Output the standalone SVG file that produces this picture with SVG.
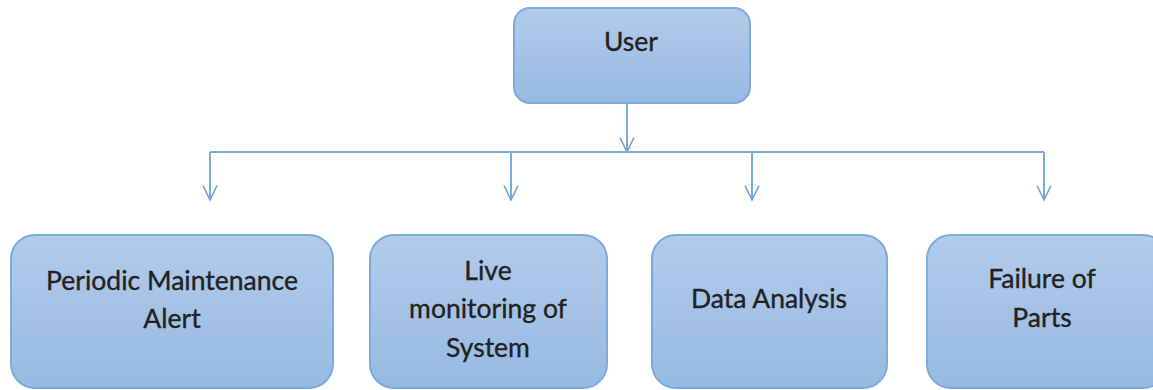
<svg xmlns="http://www.w3.org/2000/svg" width="1153" height="390" viewBox="0 0 1153 390">
  <defs>
    <linearGradient id="boxFill" x1="0" y1="0" x2="0" y2="1">
      <stop offset="0" stop-color="#b3cbea"/>
      <stop offset="1" stop-color="#97b9e2"/>
    </linearGradient>
    <!-- open chevron arrowhead, drawn along +x so it follows the line direction -->
    <marker id="arrow" viewBox="0 0 16 16" refX="15" refY="8" markerWidth="16" markerHeight="16" markerUnits="userSpaceOnUse" orient="auto">
      <path d="M0.5,1 L15,8 L0.5,15" fill="none" stroke="#6fa3da" stroke-width="1.6"/>
    </marker>
  </defs>
  <style>
    .box { fill: url(#boxFill); stroke: #7eaadb; stroke-width: 2; }
    .label { font-family: Lato, "Liberation Sans", sans-serif; font-size: 26.5px; fill: #222; stroke: #222; stroke-width: 0.35; text-anchor: middle; }
    .link { fill: none; stroke: #7aa9dc; stroke-width: 2; }
  </style>

  <g id="connectors">
    <path class="link" d="M627,103 V152" marker-end="url(#arrow)"/>
    <path class="link" d="M210,152 H1044"/>
    <path class="link" d="M210,152 V200" marker-end="url(#arrow)"/>
    <path class="link" d="M511,152 V200" marker-end="url(#arrow)"/>
    <path class="link" d="M752,152 V200" marker-end="url(#arrow)"/>
    <path class="link" d="M1044,152 V200" marker-end="url(#arrow)"/>
  </g>

  <g id="user">
    <rect class="box" x="514" y="8" width="236" height="95" rx="16"/>
    <text class="label" x="631" y="51">User</text>
  </g>

  <g id="periodic-maintenance">
    <rect class="box" x="11" y="235" width="322" height="153" rx="24"/>
    <text class="label" x="172" y="290">Periodic Maintenance</text>
    <text class="label" x="172" y="328">Alert</text>
  </g>

  <g id="live-monitoring">
    <rect class="box" x="370" y="235" width="237" height="153" rx="24"/>
    <text class="label" x="488" y="280">Live</text>
    <text class="label" x="488" y="318">monitoring of</text>
    <text class="label" x="488" y="357">System</text>
  </g>

  <g id="data-analysis">
    <rect class="box" x="652" y="235" width="235" height="153" rx="24"/>
    <text class="label" x="769" y="308">Data Analysis</text>
  </g>

  <g id="failure-of-parts">
    <rect class="box" x="927" y="235" width="240" height="153" rx="24"/>
    <text class="label" x="1042" y="288">Failure of</text>
    <text class="label" x="1042" y="327">Parts</text>
  </g>
</svg>
